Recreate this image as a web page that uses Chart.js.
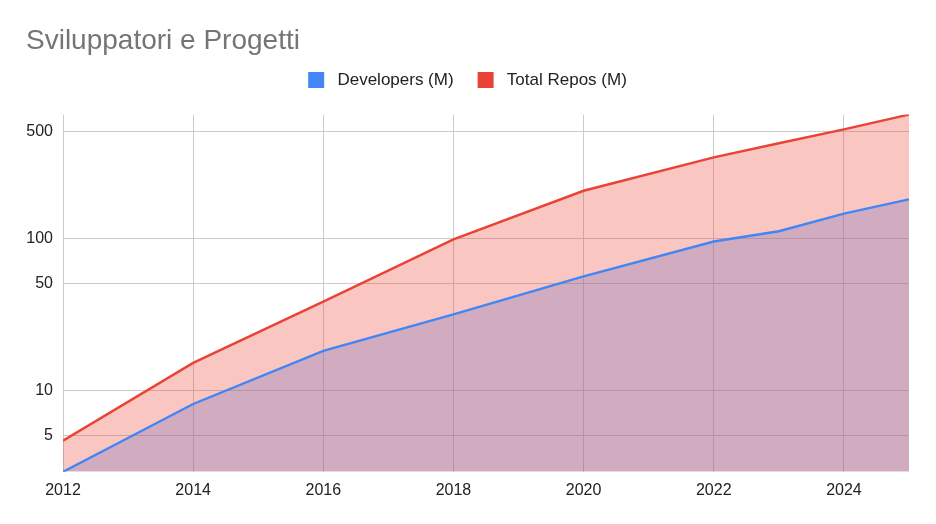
<!DOCTYPE html>
<html>
<head>
<meta charset="utf-8">
<title>Sviluppatori e Progetti</title>
<script src="https://cdn.jsdelivr.net/npm/chart.js@4.4.1/dist/chart.umd.min.js"></script>
<style>
  html, body { margin: 0; padding: 0; background: #ffffff; }
  #wrap { width: 936px; height: 524px; position: relative; }
</style>
</head>
<body>
<div id="wrap"><canvas id="growthChart"></canvas></div>
<script>
// Values (millions, log scale)
const years = [2012, 2014, 2016, 2018, 2020, 2022, 2023, 2024, 2025];
const developers = [2.9, 8.1, 18.1, 31.5, 56, 95, 111, 145, 180];
const totalRepos = [4.65, 15.1, 38.2, 98, 205, 340, 421, 520, 650];
const xTicks = [2012, 2014, 2016, 2018, 2020, 2022, 2024];
const yTicks = [5, 10, 50, 100, 500];
const seriesNames = ['Developers (M)', 'Total Repos (M)'];
const seriesColors = ['#4285f4', '#ea4335'];

const FONT = "'Liberation Sans', Arial, sans-serif";

function toPoints(values) {
  return years.map((year, i) => ({ x: year, y: values[i] }));
}

function makeDataset(label, values, color, order) {
  return {
    label: label,
    data: toPoints(values),
    borderColor: color,
    backgroundColor: color + '4d', // ~30% opacity like the sheets area chart
    borderWidth: 2.4,
    fill: 'start',
    tension: 0,
    pointRadius: 0,
    pointHoverRadius: 4,
    order: order
  };
}

// extra gap between legend and plot area
const legendGap = {
  id: 'legendGap',
  beforeInit(chart) {
    const fit = chart.legend.fit;
    chart.legend.fit = function() {
      fit.bind(chart.legend)();
      this.height += 16;
    };
  }
};

const ctx = document.getElementById('growthChart').getContext('2d');

new Chart(ctx, {
  type: 'line',
  data: {
    datasets: [
      makeDataset(seriesNames[0], developers, seriesColors[0], 1),
      // red area sits on top of the blue one
      makeDataset(seriesNames[1], totalRepos, seriesColors[1], 0)
    ]
  },
  plugins: [legendGap],
  options: {
    responsive: true,
    maintainAspectRatio: false,
    animation: false,
    layout: {
      padding: { left: 26, right: 27, top: 0, bottom: 15 }
    },
    plugins: {
      filler: { drawTime: 'beforeDatasetsDraw' },
      title: {
        display: true,
        text: 'Sviluppatori e Progetti',
        align: 'start',
        color: '#757575',
        font: { family: FONT, size: 28, weight: 'normal' },
        padding: { top: 24, bottom: -10 }
      },
      legend: {
        display: true,
        position: 'top',
        align: 'center',
        labels: {
          boxWidth: 16,
          boxHeight: 16,
          padding: 24,
          color: '#222222',
          font: { family: FONT, size: 17 },
          // keep legend in dataset order, solid swatches, a bit more room after the box
          generateLabels: (chart) => chart.data.datasets.map((ds, i) => ({
            text: ' ' + ds.label,
            fillStyle: seriesColors[i],
            strokeStyle: seriesColors[i],
            lineWidth: 0,
            fontColor: '#222222',
            hidden: !chart.isDatasetVisible(i),
            datasetIndex: i
          }))
        }
      },
      tooltip: {
        mode: 'index',
        intersect: false
      }
    },
    scales: {
      x: {
        type: 'linear',
        min: years[0],
        max: years[years.length - 1],
        afterBuildTicks: (scale) => {
          scale.ticks = xTicks.map(v => ({ value: v }));
        },
        grid: {
          color: '#cccccc',
          lineWidth: 1,
          drawTicks: false
        },
        border: { display: false },
        ticks: {
          color: '#222222',
          font: { family: FONT, size: 16 },
          padding: 9,
          maxRotation: 0,
          callback: (value) => String(value)
        }
      },
      y: {
        type: 'logarithmic',
        min: Math.min(...developers),
        max: Math.max(...totalRepos),
        afterBuildTicks: (scale) => {
          scale.ticks = yTicks.map(v => ({ value: v }));
        },
        afterFit: (scale) => {
          scale.width = 37;
        },
        grid: {
          color: '#cccccc',
          lineWidth: 1,
          drawTicks: false
        },
        border: { display: false },
        ticks: {
          color: '#222222',
          font: { family: FONT, size: 16 },
          padding: 10,
          callback: (value) => String(value)
        }
      }
    },
    interaction: {
      mode: 'nearest',
      axis: 'x',
      intersect: false
    }
  }
});
</script>
</body>
</html>
